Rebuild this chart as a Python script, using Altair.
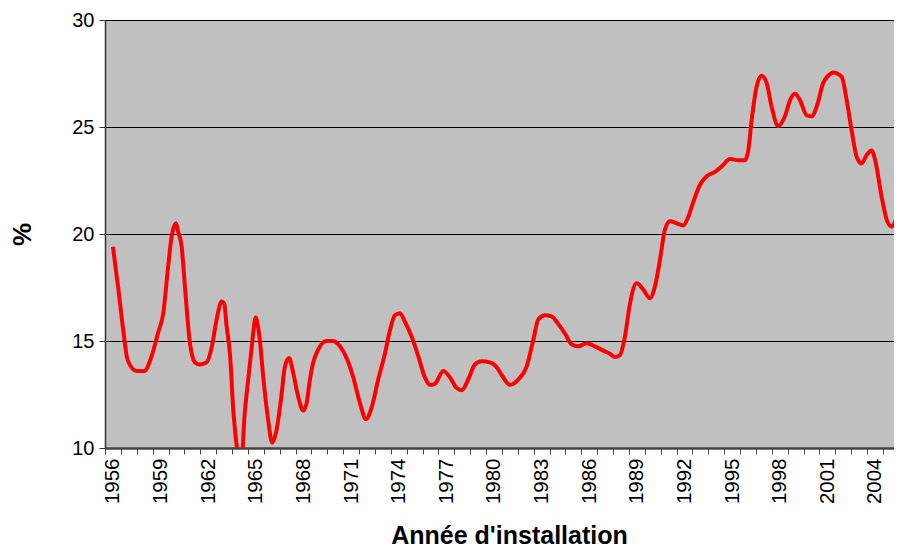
import altair as alt
import pandas as pd

annee = [1956.0, 1956.33, 1956.65, 1956.93, 1957.49, 1957.97, 1958.44, 1958.85, 1959.17, 1959.48,
         1959.70, 1959.97, 1960.11, 1960.33, 1960.54, 1960.85, 1961.0, 1961.17, 1961.48, 1961.90,
         1962.22, 1962.53, 1962.85, 1963.01, 1963.16, 1963.37, 1963.58, 1963.75, 1963.95, 1964.14,
         1964.27, 1964.52, 1964.74, 1964.84, 1964.99, 1965.11, 1965.26, 1965.47, 1965.78, 1966.03,
         1966.31, 1966.63, 1966.83, 1967.09, 1967.36, 1967.67, 1967.99, 1968.20, 1968.41, 1968.62,
         1968.93, 1969.46, 1969.88, 1970.30, 1970.72, 1971.14, 1971.56, 1971.94, 1972.30, 1972.71,
         1973.13, 1973.45, 1973.76, 1974.08, 1974.39, 1974.82, 1975.23, 1975.65, 1975.97, 1976.28,
         1976.81, 1977.23, 1977.65, 1977.97, 1978.38, 1978.80, 1979.23, 1979.75, 1980.2, 1980.5,
         1981.01, 1981.53, 1982.06, 1982.48, 1982.79, 1983.21, 1983.63, 1984.05, 1984.47, 1984.89,
         1985.31, 1985.84, 1986.36, 1986.89, 1987.31, 1987.62, 1987.94, 1988.25, 1988.57, 1988.99,
         1989.41, 1989.83, 1990.14, 1990.46, 1990.77, 1991.09, 1991.51, 1991.93, 1992.24, 1992.56,
         1992.98, 1993.40, 1993.92, 1994.34, 1994.87, 1995.39, 1995.81, 1996.02, 1996.23, 1996.55,
         1996.86, 1997.18, 1997.49, 1997.91, 1998.33, 1998.65, 1998.96, 1999.28, 1999.70, 2000.01,
         2000.33, 2000.74, 2001.06, 2001.37, 2001.90, 2002.22, 2002.53, 2002.85, 2003.16, 2003.49,
         2003.80, 2004.0, 2004.42, 2004.75, 2005.05, 2005.37, 2005.68, 2005.9]

pct = [19.4, 17.5, 15.5, 14.1, 13.6, 13.6, 14.3, 15.4, 16.3, 18.5,
       19.9, 20.5, 20.1, 19.4, 17.5, 14.9, 14.3, 14.0, 13.9, 14.0,
       14.7, 16.0, 16.85, 16.75, 15.7, 14.4, 11.8, 10.4, 9.5, 9.7,
       11.3, 13.2, 14.7, 15.4, 16.1, 15.8, 15.0, 13.3, 11.3, 10.25,
       10.85, 12.55, 13.8, 14.2, 13.5, 12.4, 11.75, 12.1, 13.2, 14.0,
       14.6, 15.0, 15.0, 14.75, 14.2, 13.3, 12.1, 11.35, 11.9, 13.2,
       14.4, 15.5, 16.2, 16.3, 15.9, 15.2, 14.3, 13.3, 12.95, 13.0,
       13.6, 13.3, 12.8, 12.7, 13.2, 13.9, 14.05, 14.0, 13.75, 13.4,
       12.95, 13.2, 13.8, 15.05, 16.0, 16.2, 16.15, 15.8, 15.35, 14.85,
       14.75, 14.9, 14.75, 14.55, 14.4, 14.25, 14.35, 15.2, 16.75, 17.7,
       17.4, 17.0, 17.55, 18.8, 20.2, 20.6, 20.5, 20.4, 20.8, 21.5,
       22.3, 22.7, 22.9, 23.15, 23.5, 23.45, 23.45, 23.9, 25.3, 26.9,
       27.4, 27.05, 25.95, 25.05, 25.5, 26.25, 26.55, 26.25, 25.55, 25.5,
       25.95, 27.05, 27.4, 27.55, 27.35, 26.25, 24.85, 23.6, 23.3, 23.7,
       23.9, 23.5, 21.75, 20.65, 20.35, 20.75, 21.4, 21.9]

x_labels = list(range(1956, 2005, 3))
x_ticks = [1955.5 + i for i in range(50)]
y_ticks = [10, 15, 20, 25, 30]

df = pd.DataFrame({"annee": annee, "pct": pct})

FONT = "Liberation Sans"

x_scale = alt.Scale(domain=[1955.5, 2005.2], nice=False, zero=False)
y_enc = alt.Y(
    "pct:Q",
    scale=alt.Scale(domain=[10, 30], nice=False, zero=False),
    axis=alt.Axis(
        values=y_ticks, grid=True, gridColor="#000000", gridWidth=1, gridOpacity=1,
        domainColor="#333333", domainWidth=1.5, tickColor="#333333", tickSize=6,
        labelFontSize=20, labelFont=FONT, labelColor="#000000", labelPadding=5,
        title="%", titleFont=FONT, titleFontSize=26, titleFontWeight="bold",
        titleColor="#000000", titleAngle=270, titleX=-83, titleY=214,
        titleAlign="center", titleBaseline="middle",
    ),
)

line = alt.Chart(df).mark_line(
    color="#FF0000", strokeWidth=4, interpolate="monotone", clip=True
).encode(
    x=alt.X(
        "annee:Q", scale=x_scale,
        axis=alt.Axis(
            values=x_labels, format="d", orient="bottom", labelAngle=270,
            ticks=False, grid=False, domainColor="#444444", domainWidth=2.5,
            labelFontSize=20.5, labelFont=FONT, labelColor="#000000", labelPadding=10,
            title="Année d'installation", titleFont=FONT, titleFontSize=25,
            titleFontWeight="bold", titleColor="#000000", titleY=87, titleX=404,
            titleAlign="center", titleBaseline="middle",
        ),
    ),
    y=y_enc,
)

tick_layer = alt.Chart(df).mark_line(opacity=0).encode(
    x=alt.X(
        "annee:Q", scale=x_scale,
        axis=alt.Axis(
            values=x_ticks, orient="bottom", labels=False, ticks=True, tickSize=6,
            tickColor="#444444", grid=False, domain=False, title=None,
        ),
    ),
    y=y_enc,
)

chart = (
    alt.layer(line, tick_layer)
    .resolve_axis(x="independent")
    .properties(
        width=789, height=428,
        autosize=alt.AutoSizeParams(type="none"),
        padding={"left": 97, "top": 12, "right": 0, "bottom": 104},
        background="#FFFFFF",
    )
    .configure_view(fill="#C0C0C0", stroke=None)
)

chart.save("out.html", embed_options={"renderer": "svg", "actions": False})
